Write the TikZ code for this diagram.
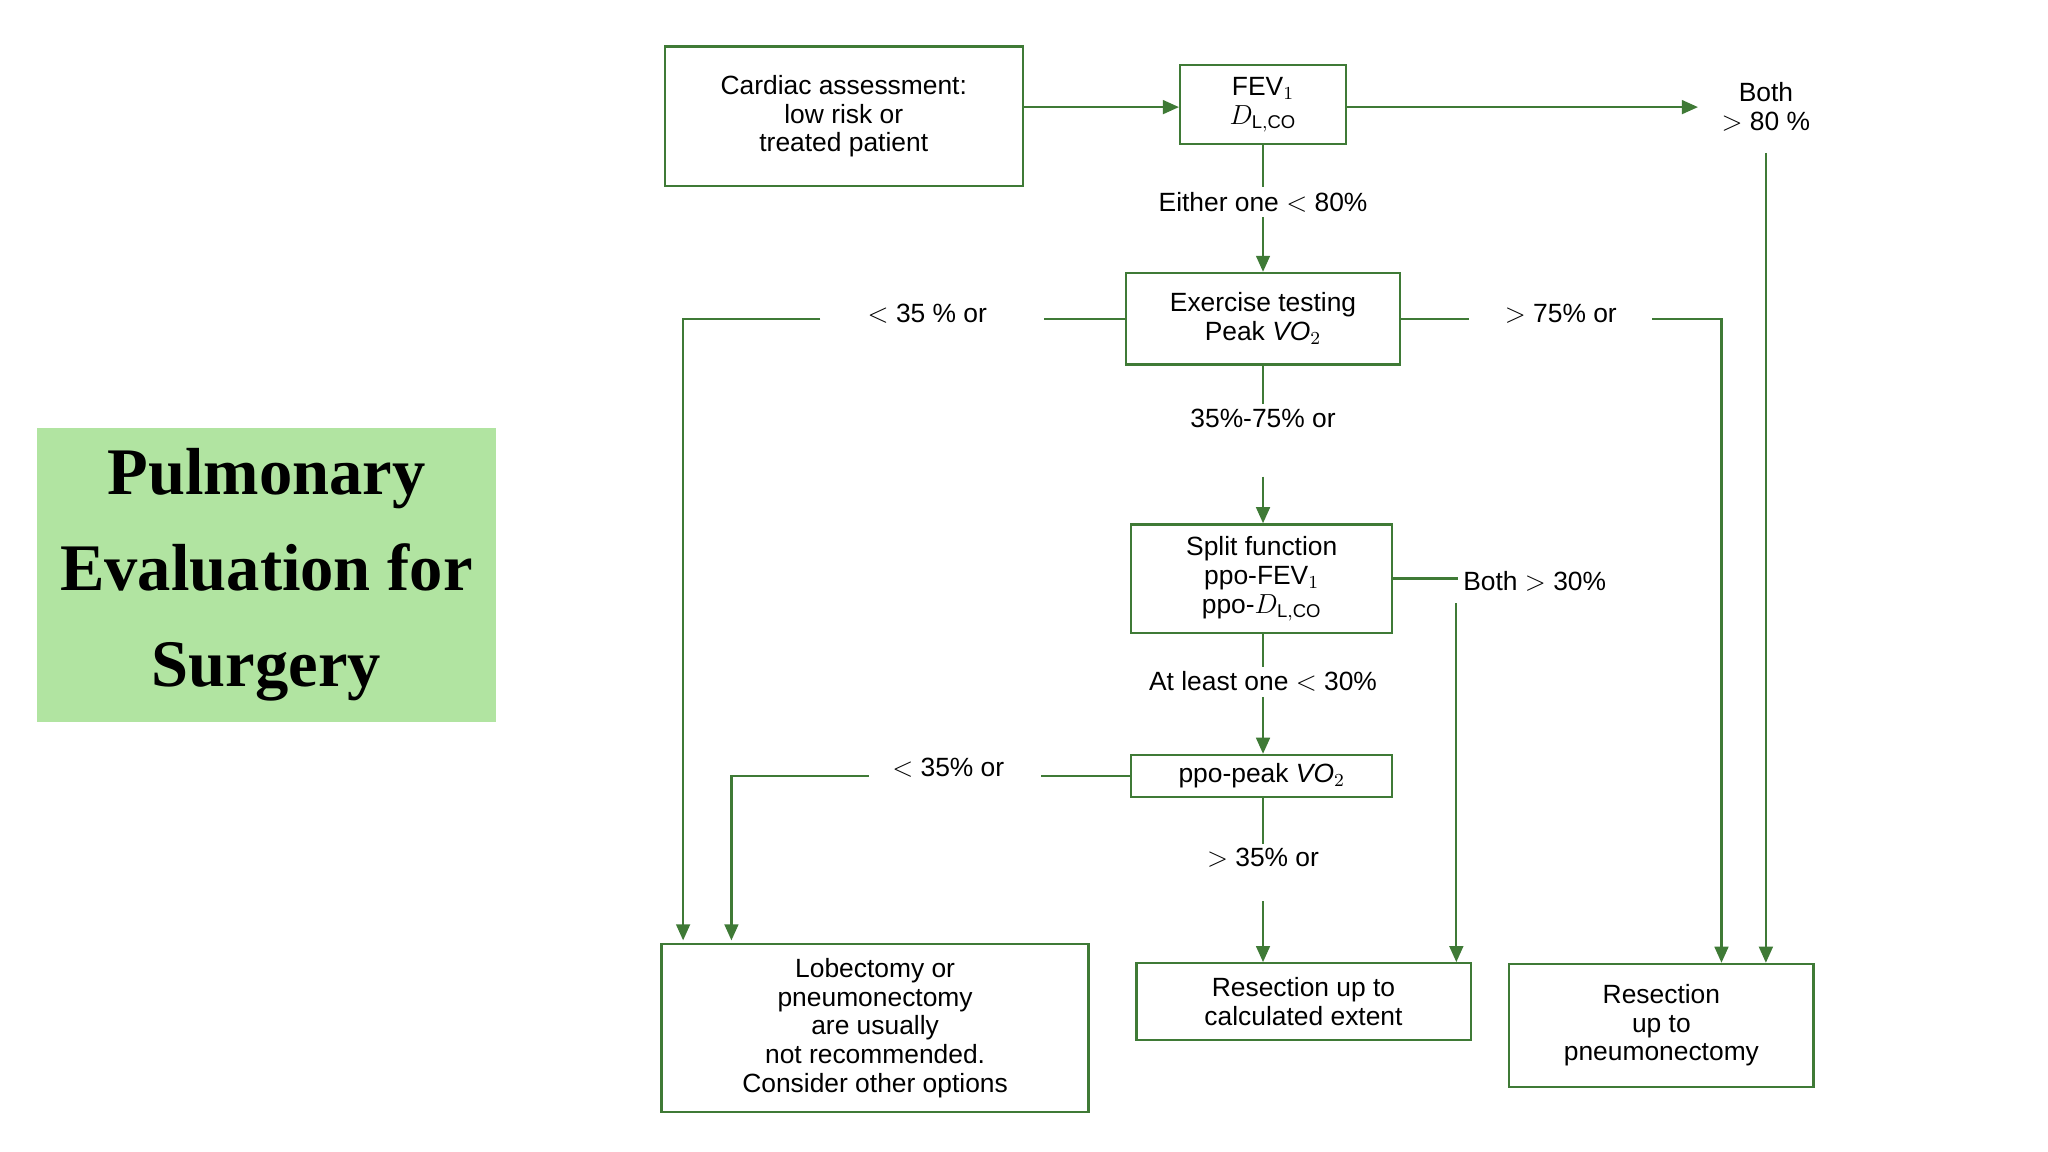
\documentclass[tikz,border=0pt]{standalone}
\usepackage{fontspec}
\setmainfont{Liberation Sans}
\newfontfamily\ttlfont{Liberation Serif}
\usetikzlibrary{arrows.meta,positioning}
\definecolor{flowgreen}{HTML}{3F7A36}
\definecolor{ttlgreen}{HTML}{B1E4A1}

\tikzset{
  box/.style={draw=flowgreen, line width=1pt, align=center, inner sep=0pt,
    font=\fontsize{11.5}{12.5}\selectfont},
  lab/.style={align=center, inner sep=2pt, font=\fontsize{11.5}{12.5}\selectfont},
  ln/.style={flowgreen, line width=1pt},
  arr/.style={ln, -{Triangle[length=7pt,width=6pt]}}
}

\begin{document}
\begin{tikzpicture}[x={(0.02cm,0)}, y={(0,-0.02cm)}]
\useasboundingbox (0,0) rectangle (1568,882);

% title
\node[fill=ttlgreen, minimum width=7.04cm, minimum height=4.5cm, align=center,
  font=\ttlfont\bfseries\fontsize{29}{42}\selectfont] (title) at (204,440)
  {Pulmonary\\Evaluation for\\Surgery};

% boxes
\node[box, minimum width=5.48cm, minimum height=2.14cm] (cardiac) at (646,89)
  {Cardiac assessment:\\low risk or\\treated patient};
\node[box, minimum width=2.54cm, minimum height=1.22cm] (fev) at (967,80)
  {FEV$_1$\\$D_{\mathrm{L,CO}}$};
\node[lab] (both80) at (1352,82) {Both\\$>$ 80 \%};
\node[box, minimum width=4.2cm, minimum height=1.4cm] (exer) at (967,244)
  {Exercise testing\\Peak \textit{VO}$_2$};
\node[box, minimum width=4cm, minimum height=1.66cm] (split) at (966,443)
  {Split function\\ppo-FEV$_1$\\ppo-$D_{\mathrm{L,CO}}$};
\node[box, minimum width=4cm, minimum height=0.64cm] (peak) at (966,594)
  {ppo-peak \textit{VO}$_2$};
\node[box, minimum width=6.54cm, minimum height=2.58cm] (lobe) at (670,787)
  {Lobectomy or\\pneumonectomy\\are usually\\not recommended.\\Consider other options};
\node[box, minimum width=5.12cm, minimum height=1.18cm] (calc) at (998,767)
  {Resection up to\\calculated extent};
\node[box, minimum width=4.66cm, minimum height=1.88cm] (pneu) at (1272,785)
  {Resection\\up to\\pneumonectomy};

% labels on the lines
\node[lab] (l80) at (967,155) {Either one $<$ 80\%};
\node[lab] (l35a) at (710,240) {$<$ 35 \% or};
\node[lab] (l75) at (1195,240) {$>$ 75\% or};
\node[lab] (lmid) at (967,320) {35\%-75\% or};
\node[lab] (l30) at (1175,445) {Both $>$ 30\%};
\node[lab] (lone) at (967,522) {At least one $<$ 30\%};
\node[lab] (l35b) at (726,588) {$<$ 35\% or};
\node[lab] (l35c) at (967,657) {$>$ 35\% or};

% corners
\coordinate (both80end) at (1300,82);
\coordinate (la) at (628,244);
\coordinate (lac) at (523,244);
\coordinate (ra) at (1265,244);
\coordinate (rac) at (1318,244);
\coordinate (sb) at (1115,462);
\coordinate (lb) at (665,594);
\coordinate (lbc) at (560,594);

% connectors
\draw[arr] (cardiac.east |- 0,82) -- (fev.west |- 0,82);
\draw[arr] (fev.east |- 0,82) -- (both80end);
\draw[arr] (1352,117) -- (pneu.north -| 1352,0);
\draw[ln] (fev.south) -- (l80.north);
\draw[arr] (l80.south) -- (exer.north);
\draw[ln] (exer.west) -- (799,244);
\draw[arr] (la) -- (lac) -- (523,720);
\draw[ln] (exer.east) -- (1125,244);
\draw[arr] (ra) -- (rac) -- (pneu.north -| rac);
\draw[ln] (exer.south) -- (lmid.north);
\draw[arr] (967,365) -- (split.north -| 967,0);
\draw[ln] (split.east |- 0,443) -- (l30.west |- 0,443);
\draw[arr] (sb) -- (calc.north -| sb);
\draw[ln] (split.south -| 967,0) -- (lone.north);
\draw[arr] (lone.south) -- (peak.north -| 967,0);
\draw[ln] (peak.west) -- (797,594);
\draw[arr] (lb) -- (lbc) -- (560,720);
\draw[ln] (peak.south -| 967,0) -- (l35c.north);
\draw[arr] (967,690) -- (calc.north -| 967,0);
\end{tikzpicture}
\end{document}
